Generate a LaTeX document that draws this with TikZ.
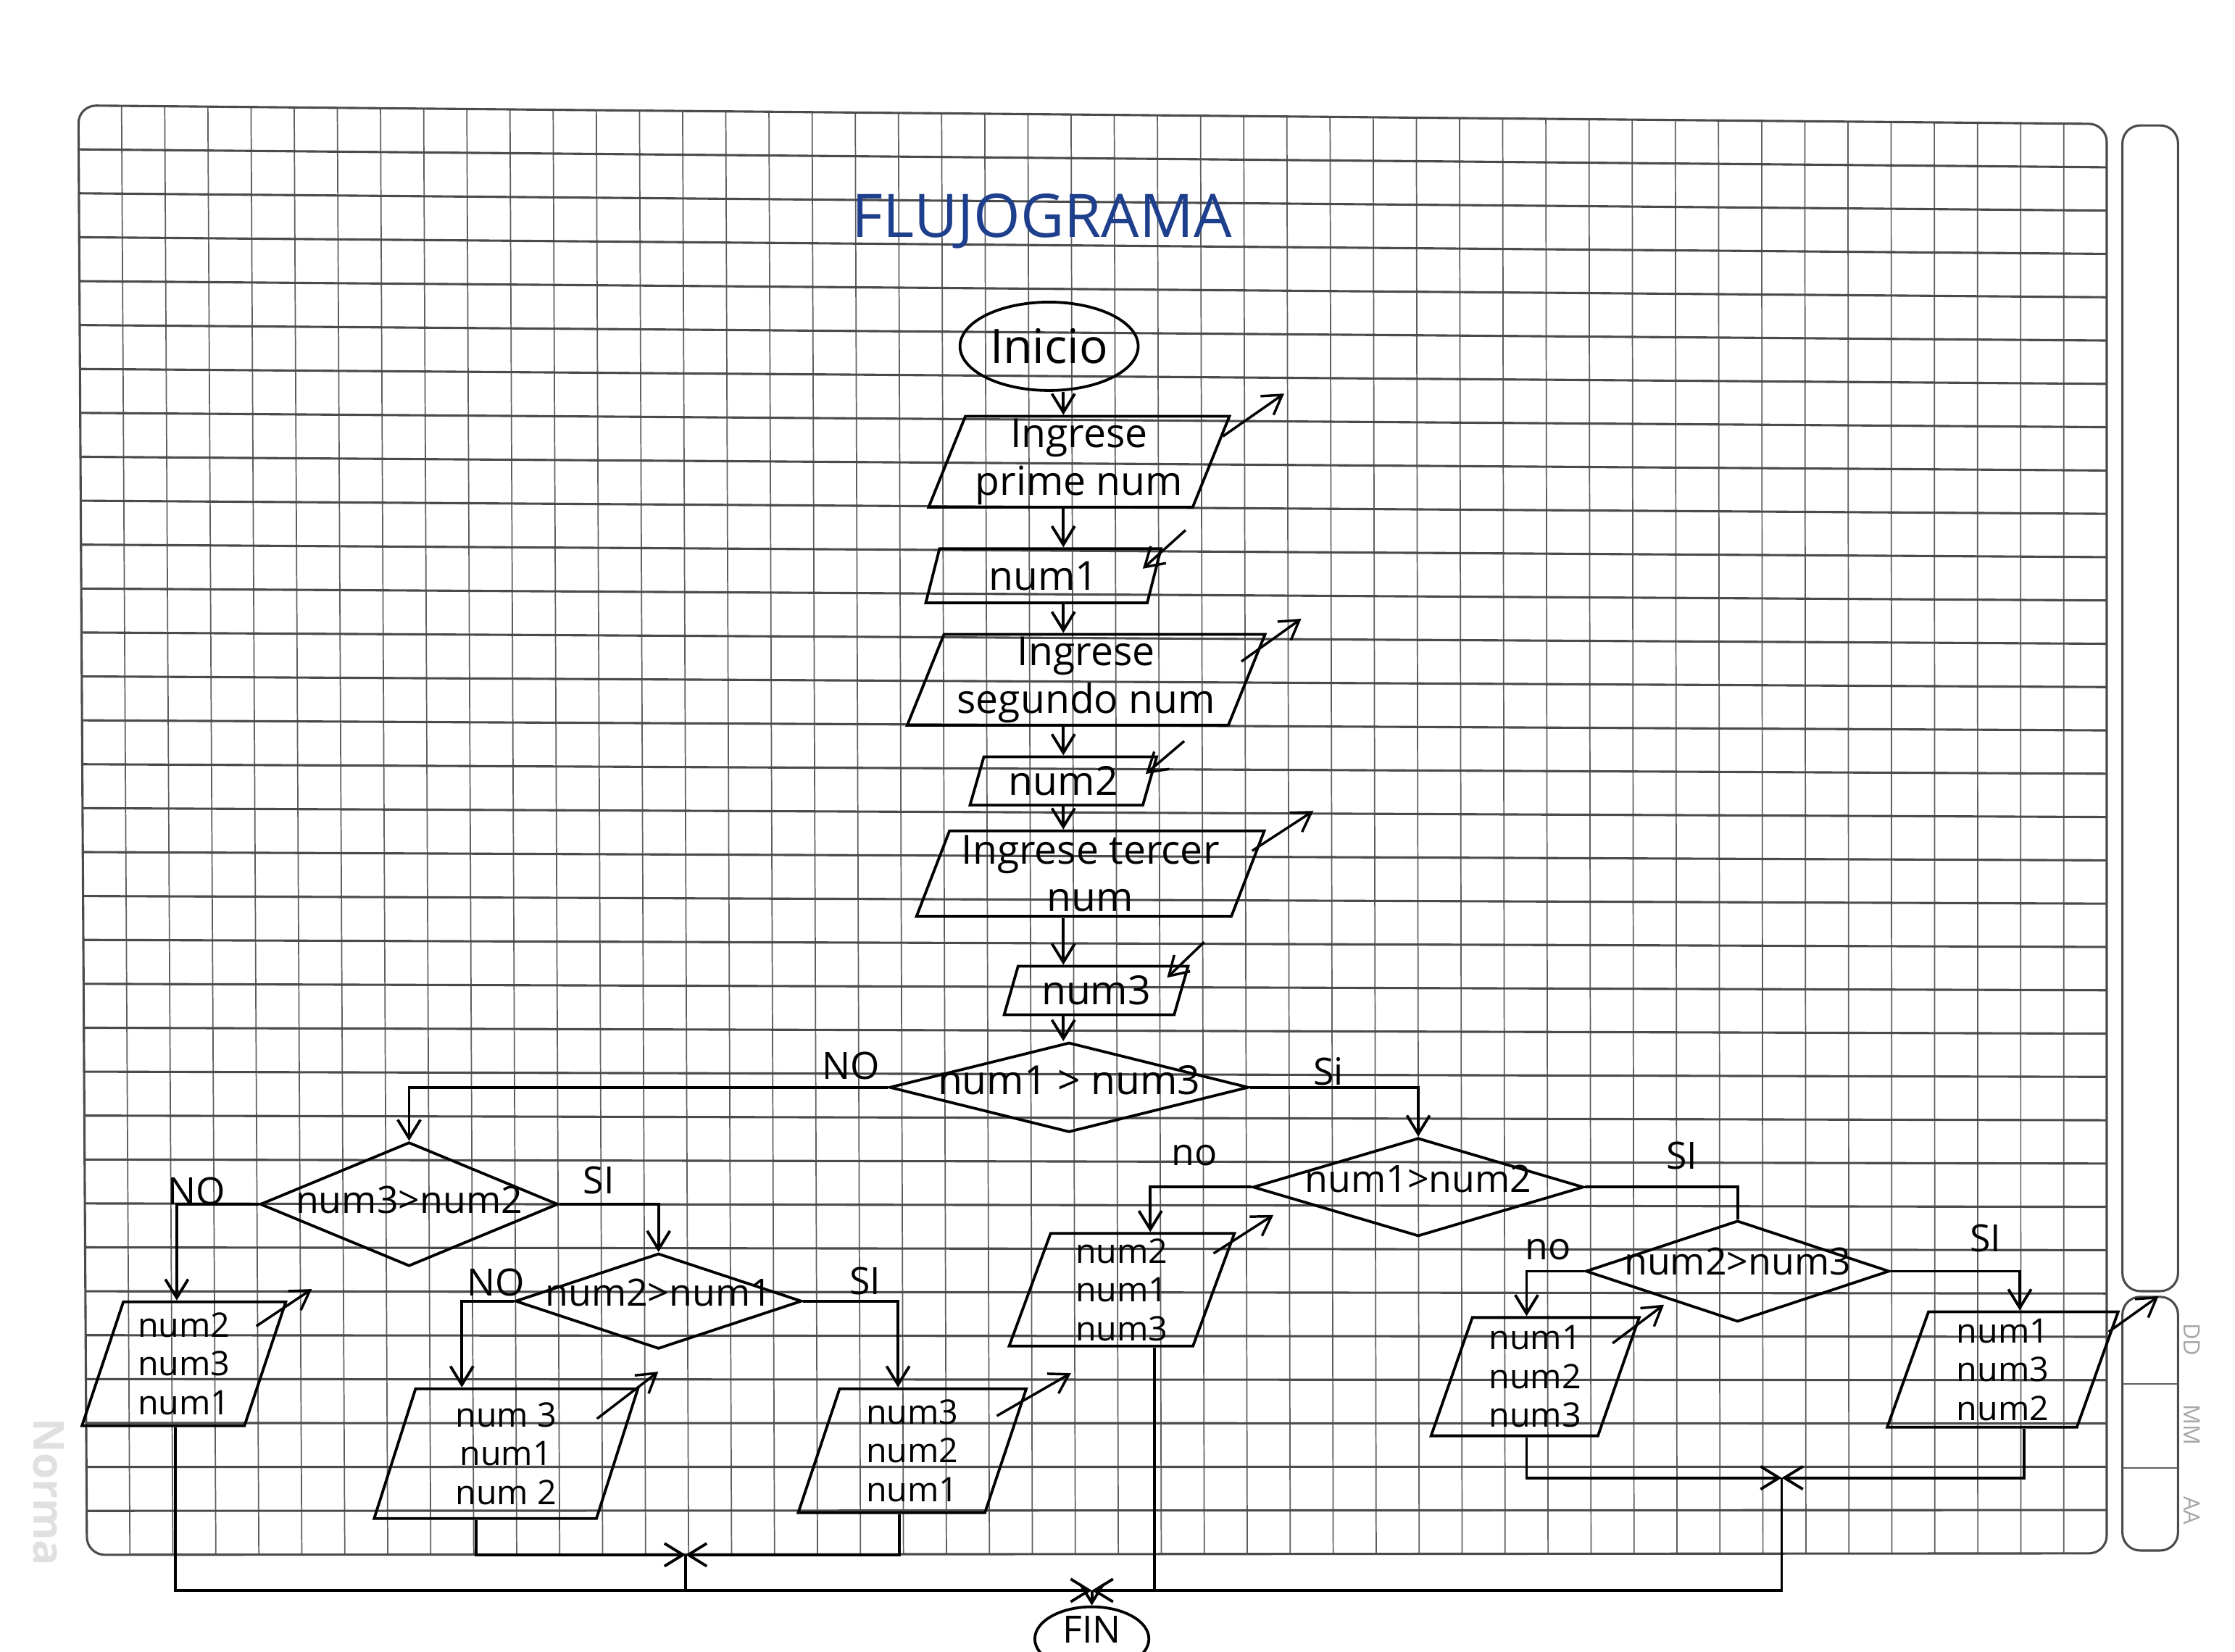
\documentclass[tikz,border=0pt]{standalone}
\usepackage{fontspec}
\setmainfont{Open Sans}
\usepackage{tikz}
\usetikzlibrary{calc,shapes.geometric,arrows.meta}
\usepackage{xcolor}
\definecolor{InkBlue}{HTML}{1E3F8C}
\definecolor{GridGray}{HTML}{5E5E5E}

\begin{document}
\begin{tikzpicture}[x=0.2mm, y=-0.2mm,
    gridv/.style={GridGray, line width=0.5pt},
    gridh/.style={GridGray!80!black, line width=0.9pt},
    heading/.style={text=InkBlue, font=\fontsize{24}{28}\selectfont},
    term/.style={draw, ellipse, line width=1.1pt, inner sep=0pt,
        font=\fontsize{19}{22}\selectfont},
    iobox/.style={draw, trapezium, trapezium left angle=68, trapezium right angle=112,
        trapezium stretches body, line width=1.1pt, inner sep=1pt, align=center,
        font=\fontsize{16}{19}\selectfont},
    varbox/.style={iobox, inner sep=0pt, font=\fontsize{13.5}{15.5}\selectfont},
    decision/.style={draw, diamond, line width=1.1pt, inner sep=0pt},
    lbl/.style={inner sep=1pt, font=\fontsize{15}{18}\selectfont},
    datelbl/.style={rotate=-90, text=black!35, font=\fontsize{9}{10}\selectfont},
    link/.style={line width=1.1pt},
    arrow/.style={->, >={Straight Barb[length=2.6mm, width=3.2mm]}, line width=1.1pt},
    ioarrow/.style={arrow, line width=1pt}
  ]
  \useasboundingbox (0,0) rectangle (1568,1159);
  \fill[white] (0,0) rectangle (1568,1159);

  % grid paper
  \foreach \i in {1,...,46}
    \draw[gridv] ({55+\i*30.28}, {74+\i*0.277}) -- ({61+\i*30.149}, {1091-\i*0.02});
  \foreach \j in {1,...,32}
    \draw[gridh] ({55+\j*0.18}, {74+\j*30.818}) -- (1478, {87+\j*30.394});
  \draw[gridh, rounded corners=2.5mm] (55,74) -- (1478,87) -- (1478,1090) -- (61,1091) -- cycle;
  \draw[gridh, rounded corners=2.5mm] (1489,88) rectangle (1528,906);
  \draw[gridh, rounded corners=2.5mm] (1489,910) rectangle (1528,1088);
  \draw[gridv] (1489,971) -- (1528,971);
  \draw[gridv] (1489,1030) -- (1528,1030);
  \node[datelbl] (dd) at (1538,940) {DD};
  \node[datelbl] (mm) at (1538,1000) {MM};
  \node[datelbl] (aa) at (1538,1060) {AA};
  \node[rotate=-90, text=black!12, font=\bfseries\fontsize{17}{18}\selectfont] (logo) at (34,1047) {Norma};

  \node[heading] (titulo) at (731,155) {FLUJOGRAMA};

  % columna principal
  \coordinate (spine) at (746,0);
  \node[term, minimum width=25mm, minimum height=12.4mm] (inicio) at (736,243) {Inicio};
  \node[iobox, minimum width=42.2mm, minimum height=12.4mm] (p1) at (757,324) {Ingrese\\prime num};
  \node[iobox, minimum width=33mm, minimum height=7.6mm] (n1) at (732,404) {num1};
  \node[iobox, minimum width=50.2mm, minimum height=11.8mm] (p2) at (762,477) {Ingrese\\segundo num};
  \node[iobox, minimum width=26.2mm, minimum height=6.8mm] (n2) at (746,548) {num2};
  \node[iobox, minimum width=48.8mm, minimum height=12mm] (p3) at (765,613) {Ingrese tercer\\num};
  \node[iobox, minimum width=25.8mm, minimum height=6.8mm] (n3) at (769,695) {num3};
  \node[decision, minimum width=50.4mm, minimum height=12.6mm,
    label={[lbl, font=\fontsize{16}{18}\selectfont, yshift=1mm]center:num1 > num3}] (d1) at (750,763) {};

  \draw[arrow] (inicio.south -| spine) -- (p1.north -| spine);
  \draw[arrow] (p1.south -| spine) -- (n1.north -| spine);
  \draw[arrow] (n1.south -| spine) -- (p2.north -| spine);
  \draw[arrow] (p2.south -| spine) -- (n2.north -| spine);
  \draw[arrow] (n2.south -| spine) -- (p3.north -| spine);
  \draw[arrow] (p3.south -| spine) -- (n3.north -| spine);
  \draw[arrow] (n3.south -| spine) -- (d1.north -| spine);

  % salida / entrada
  \draw[ioarrow] ([shift={(-6,15)}]p1.top right corner) -- ++(43,-30);
  \draw[ioarrow] ([shift={(-18,20)}]p2.top right corner) -- ++(42,-30);
  \draw[ioarrow] ([shift={(-10,15)}]p3.top right corner) -- ++(43,-28);
  \draw[ioarrow] ([shift={(16,-12)}]n1.top right corner) -- ++(-30,27);
  \draw[ioarrow] ([shift={(18,-10)}]n2.top right corner) -- ++(-27,23);
  \draw[ioarrow] ([shift={(10,-16)}]n3.top right corner) -- ++(-26,25);

  % decisiones
  \node[decision, minimum width=41.8mm, minimum height=17.4mm,
    label={[lbl, yshift=0.6mm]center:num3>num2}] (d2) at (287,845) {};
  \node[decision, minimum width=40.2mm, minimum height=13.4mm,
    label={[lbl, yshift=1.2mm]center:num2>num1}] (d4) at (462,913) {};
  \node[decision, minimum width=46.4mm, minimum height=13.8mm,
    label={[lbl, yshift=1.2mm]center:num1>num2}] (d3) at (995,833) {};
  \node[decision, minimum width=42.6mm, minimum height=14.2mm,
    label={[lbl, yshift=1.4mm]center:num2>num3}] (d5) at (1219,892) {};

  \node[lbl] (no1) at (597,748) {NO};
  \node[lbl] (si1) at (932,752) {Si};
  \node[lbl] (no2) at (138,836) {NO};
  \node[lbl] (si2) at (420,828) {SI};
  \node[lbl] (no4) at (348,900) {NO};
  \node[lbl] (si4) at (607,899) {SI};
  \node[lbl] (no3) at (838,811) {no};
  \node[lbl] (si3) at (1180,811) {SI};
  \node[lbl] (no5) at (1086,877) {no};
  \node[lbl] (si5) at (1393,869) {SI};

  % resultados
  \node[varbox, minimum width=28.6mm, minimum height=17.4mm] (p4) at (129,957) {num2\\num3\\num1};
  \node[varbox, minimum width=37mm, minimum height=18.2mm] (p5) at (355,1020) {num 3\\num1\\num 2};
  \node[varbox, minimum width=32mm, minimum height=17.4mm] (p6) at (640,1018) {num3\\num2\\num1};
  \node[varbox, minimum width=31.6mm, minimum height=15.8mm] (p7) at (787,905) {num2\\num1\\num3};
  \node[varbox, minimum width=29.2mm, minimum height=16.6mm] (p8) at (1077,966) {num1\\num2\\num3};
  \node[varbox, minimum width=32.4mm, minimum height=16.2mm] (p9) at (1405,961) {num1\\num3\\num2};

  \draw[ioarrow] ([shift={(-22,18)}]p4.top right corner) -- ++(39,-26);
  \draw[ioarrow] ([shift={(-30,22)}]p5.top right corner) -- ++(43,-33);
  \draw[ioarrow] ([shift={(-22,20)}]p6.top right corner) -- ++(52,-30);
  \draw[ioarrow] ([shift={(-16,15)}]p7.top right corner) -- ++(42,-27);
  \draw[ioarrow] ([shift={(-20,19)}]p8.top right corner) -- ++(36,-27);
  \draw[ioarrow] ([shift={(-8,15)}]p9.top right corner) -- ++(35,-25);

  \draw[arrow] (d1.west) -| (d2.north);
  \draw[arrow] (d1.east) -| (d3.north);
  \draw[arrow] (d2.west) -| ([xshift=-1mm]p4.north);
  \draw[arrow] (d2.east) -| (d4.north);
  \draw[arrow] (d4.west) -| ([xshift=-6.2mm]p5.north);
  \draw[arrow] (d4.east) -| ([xshift=-2mm]p6.north);
  \draw[arrow] (d3.west) -| ([xshift=4mm]p7.north);
  \draw[link] (d3.east) -| (d5.north);
  \draw[arrow] (d5.west) -| ([xshift=-1.2mm]p8.north);
  \draw[arrow] (d5.east) -| ([xshift=2.4mm]p9.north);

  % cierre
  \node[term, minimum width=16mm, minimum height=9mm,
    label={[lbl, font=\fontsize{15}{17}\selectfont, yshift=1.3mm]center:FIN}] (fin) at (766,1150) {};
  \coordinate (j0) at (766,1116);
  \coordinate (j1) at (481,1091);
  \coordinate (j2) at (1250,1037);
  \draw[arrow] ([xshift=-4.2mm]p5.south) |- (j1);
  \draw[arrow] ([xshift=-1.8mm]p6.south) |- (j1);
  \draw[link] (j1) -- (j1 |- j0);
  \draw[arrow] ([xshift=-1.2mm]p8.south) |- (j2);
  \draw[arrow] ([xshift=3mm]p9.south) |- (j2);
  \draw[arrow] ([xshift=-1.2mm]p4.south) |- (j0);
  \draw[arrow] (j2) |- (j0);
  \draw[link] ([xshift=4.6mm]p7.south) -- ([xshift=4.6mm]p7.south |- j0);
  \draw[arrow] (j0) -- (fin);
\end{tikzpicture}
\end{document}
